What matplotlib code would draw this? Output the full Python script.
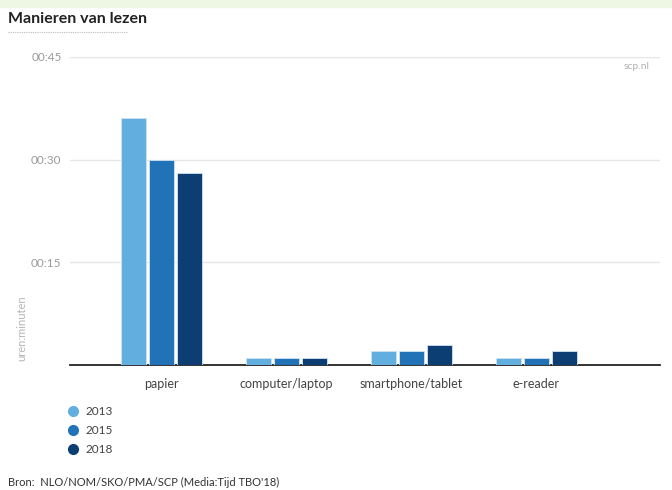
import matplotlib.pyplot as plt
from matplotlib.lines import Line2D

plt.rcParams['font.family'] = ['Lato', 'DejaVu Sans']

categories = ["papier", "computer/laptop", "smartphone/tablet", "e-reader"]
years = ["2013", "2015", "2018"]
minutes_2013 = [36, 1, 2, 1]
minutes_2015 = [30, 1, 2, 1]
minutes_2018 = [28, 1, 3, 2]
yticks = [15, 30, 45]
ytick_labels = ["00:15", "00:30", "00:45"]

colors = ["#62aede", "#2272b8", "#0c3e74"]
series = [minutes_2013, minutes_2015, minutes_2018]

fig = plt.figure(figsize=(6.72, 4.90), dpi=100)
ax = fig.add_axes([0.104, 0.255, 0.878, 0.629])

x = list(range(len(categories)))
w = 0.2
for i, vals in enumerate(series):
    pos = [xi + (i - 1) * 0.224 for xi in x]
    ax.bar(pos, vals, width=w, color=colors[i], edgecolor="#cfe3f3", linewidth=0.6, zorder=3)

ax.set_xlim(-0.736, 3.99)
ax.set_ylim(0, 45)
ax.set_yticks(yticks)
ax.set_yticklabels(ytick_labels, color="#9a9a9a", fontsize=8.5)
ax.set_xticks(x)
ax.set_xticklabels(categories, color="#444444", fontsize=9)
ax.tick_params(axis="y", length=0, pad=6)
ax.tick_params(axis="x", length=0, pad=9)
ax.grid(axis="y", color="#e6e6e6", linewidth=1, zorder=0)
for s in ["top", "right", "left"]:
    ax.spines[s].set_visible(False)
ax.spines["bottom"].set_color("#222222")
ax.spines["bottom"].set_linewidth(1.3)

# y-as titel en bron-tag
fig.text(0.032, 0.33, "uren:minuten", rotation=90, color="#b5b5b5", fontsize=8,
         ha="center", va="center")
fig.text(0.967, 0.865, "scp.nl", color="#b0b0b0", fontsize=7.5, ha="right", va="center")

# titel + groene balk bovenaan
fig.patches.append(plt.Rectangle((0, 0.985), 1, 0.015, transform=fig.transFigure,
                                 color="#eef6e4", zorder=0))
fig.text(0.012, 0.962, "Manieren van lezen", fontsize=11.5, fontweight="bold",
         color="#222222", ha="left", va="center")
fig.add_artist(Line2D([0.012, 0.19], [0.935, 0.935], transform=fig.transFigure,
                      color="#bbbbbb", linewidth=0.8, linestyle=(0, (1, 1))))

# legenda
for i, yr in enumerate(years):
    yy = 0.161 - i * 0.039
    fig.add_artist(Line2D([0.109], [yy], marker="o", markersize=7, color=colors[i],
                          transform=fig.transFigure, linestyle="none"))
    fig.text(0.127, yy, yr, fontsize=8.5, color="#444444", va="center", ha="left")

fig.text(0.012, 0.016, "Bron:  NLO/NOM/SKO/PMA/SCP (Media:Tijd TBO'18)", fontsize=8,
         color="#333333", ha="left", va="center")

fig.savefig("out.png", dpi=100)
